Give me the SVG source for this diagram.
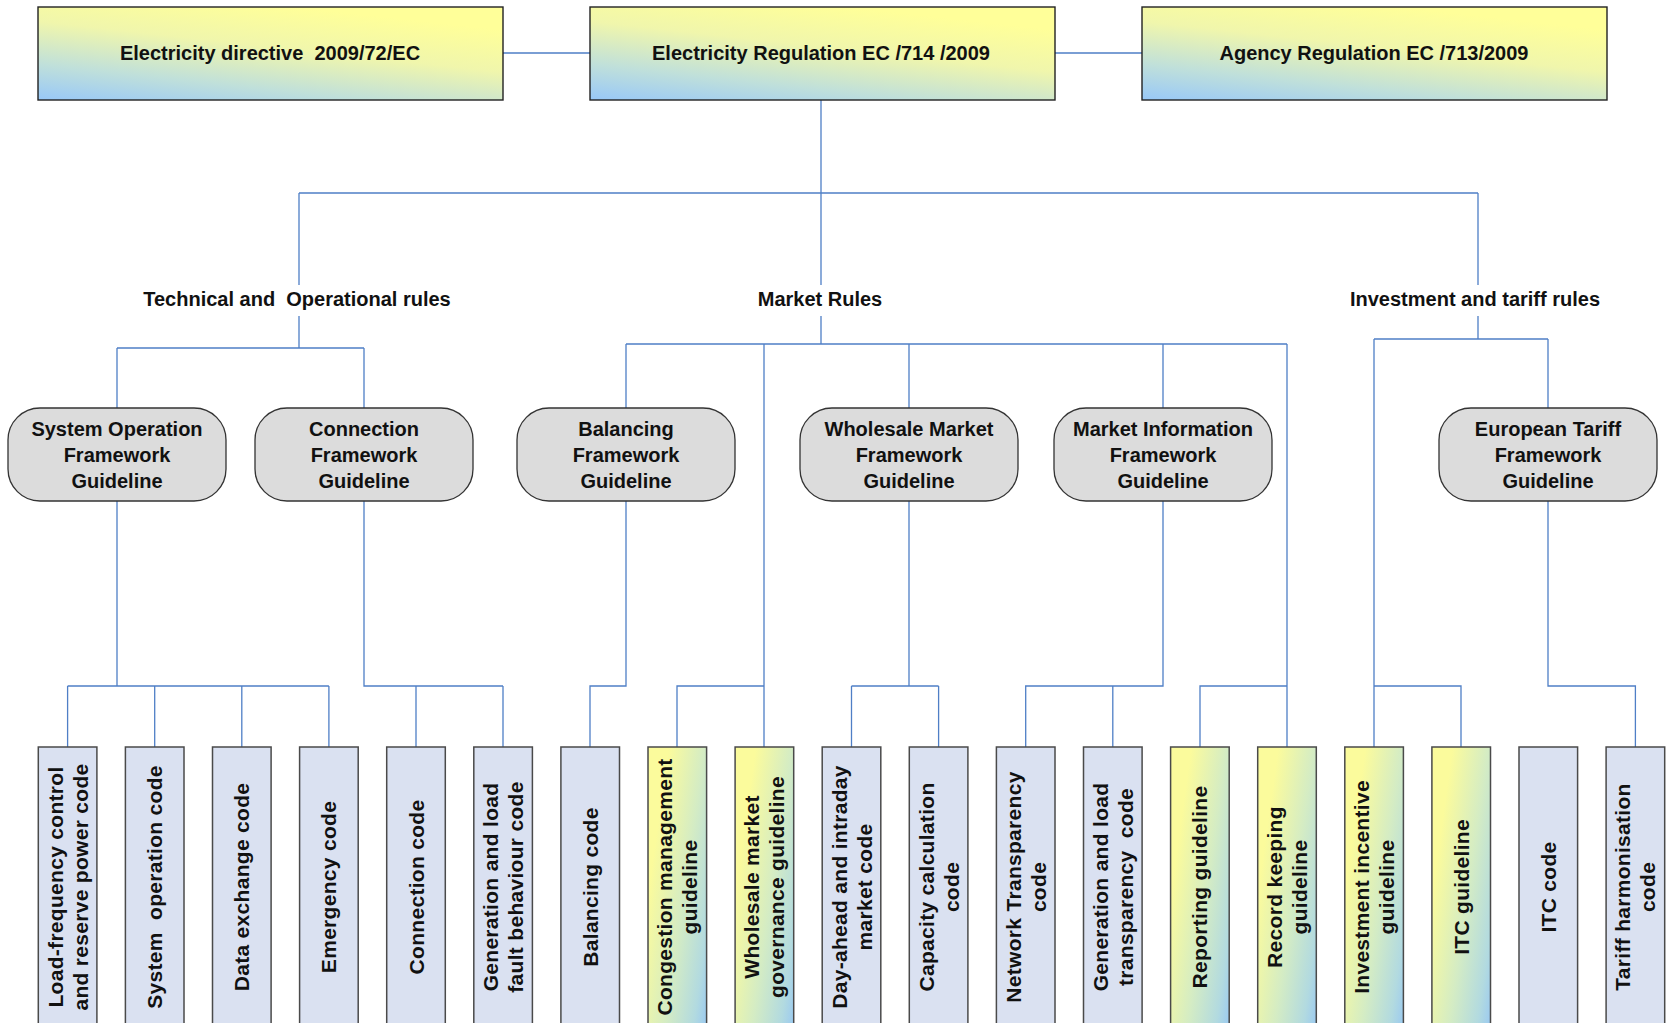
<svg xmlns="http://www.w3.org/2000/svg" width="1670" height="1023" viewBox="0 0 1670 1023">
<defs>
<linearGradient id="gTop" x1="0" y1="1" x2="0.55" y2="0">
<stop offset="0" stop-color="#98C8F8"/>
<stop offset="0.3" stop-color="#C0E0DA"/>
<stop offset="0.65" stop-color="#F0F6AC"/>
<stop offset="1" stop-color="#FFFF99"/>
</linearGradient>
<linearGradient id="gLeaf" x1="0.1" y1="0.35" x2="1" y2="1">
<stop offset="0" stop-color="#FBFB9C"/>
<stop offset="0.45" stop-color="#D4ECC4"/>
<stop offset="0.8" stop-color="#B2DAE0"/>
<stop offset="1" stop-color="#96C6F4"/>
</linearGradient>
<style>
.t{font-family:"Liberation Sans",Arial,sans-serif;font-weight:bold;fill:#111}
.tb{font-size:20px;text-anchor:middle}
.lf{font-size:21px;text-anchor:middle;letter-spacing:0.3px}
.top{fill:url(#gTop);stroke:#222;stroke-width:1.4}
.fw{fill:#DCDCDC;stroke:#333;stroke-width:1.3}
.leaf{fill:#DAE1F1;stroke:#4a4a4a;stroke-width:1.5}
.leafg{fill:url(#gLeaf);stroke:#4a4a4a;stroke-width:1.5}
.c{fill:none;stroke:#4F7FC6;stroke-width:1.3}
</style>
</defs>
<rect width="1670" height="1023" fill="#fff"/>

<g id="connectors">
<path class="c" d="M503 53H590M1055 53H1142"/>
<path class="c" d="M821 100V285M821 316V344M299 193H1478M299 193V285M299 316V348M1478 193V285M1478 316V339"/>
<path class="c" d="M117 348H364M117 348V408M364 348V408"/>
<path class="c" d="M626 344H1287M626 344V408M764 344V747M909 344V408M1163 344V408M1287 344V747"/>
<path class="c" d="M1374 339H1548M1374 339V747M1548 339V408"/>
<path class="c" d="M117 501V686M67.6 686H328.9M67.6 686V747M154.7 686V747M241.8 686V747M328.9 686V747"/>
<path class="c" d="M364 501V686H503M416 686V747M503 686V747"/>
<path class="c" d="M626 501V686H590V747"/>
<path class="c" d="M764 686H677V747"/>
<path class="c" d="M909 501V686M851.5 686H938.6M851.5 686V747M938.6 686V747"/>
<path class="c" d="M1163 501V686H1025.7V747M1112.8 686V747"/>
<path class="c" d="M1287 686H1200V747"/>
<path class="c" d="M1374 686H1461V747"/>
<path class="c" d="M1548 501V686H1635.4V747"/>
</g>

<g id="n-directive"><rect class="top" x="38" y="7" width="465" height="93"/><text class="t tb" x="270" y="60" xml:space="preserve">Electricity directive  2009/72/EC</text></g>
<g id="n-regulation"><rect class="top" x="590" y="7" width="465" height="93"/><text class="t tb" x="821" y="60">Electricity Regulation EC /714 /2009</text></g>
<g id="n-agency"><rect class="top" x="1142" y="7" width="465" height="93"/><text class="t tb" x="1374" y="60">Agency Regulation EC /713/2009</text></g>

<g id="lbl-technical"><text class="t tb" x="297" y="306" xml:space="preserve">Technical and  Operational rules</text></g>
<g id="lbl-market"><text class="t tb" x="820" y="306">Market Rules</text></g>
<g id="lbl-investment"><text class="t tb" x="1475" y="306">Investment and tariff rules</text></g>

<g id="fw-so"><rect class="fw" x="8" y="408" width="218" height="93" rx="32"/><text class="t tb" x="117"><tspan x="117" y="436">System Operation</tspan><tspan x="117" y="462">Framework</tspan><tspan x="117" y="488">Guideline</tspan></text></g>
<g id="fw-conn"><rect class="fw" x="255" y="408" width="218" height="93" rx="32"/><text class="t tb" x="364"><tspan x="364" y="436">Connection</tspan><tspan x="364" y="462">Framework</tspan><tspan x="364" y="488">Guideline</tspan></text></g>
<g id="fw-bal"><rect class="fw" x="517" y="408" width="218" height="93" rx="32"/><text class="t tb"><tspan x="626" y="436">Balancing</tspan><tspan x="626" y="462">Framework</tspan><tspan x="626" y="488">Guideline</tspan></text></g>
<g id="fw-wm"><rect class="fw" x="800" y="408" width="218" height="93" rx="32"/><text class="t tb"><tspan x="909" y="436">Wholesale Market</tspan><tspan x="909" y="462">Framework</tspan><tspan x="909" y="488">Guideline</tspan></text></g>
<g id="fw-mi"><rect class="fw" x="1054" y="408" width="218" height="93" rx="32"/><text class="t tb"><tspan x="1163" y="436">Market Information</tspan><tspan x="1163" y="462">Framework</tspan><tspan x="1163" y="488">Guideline</tspan></text></g>
<g id="fw-et"><rect class="fw" x="1439" y="408" width="218" height="93" rx="32"/><text class="t tb"><tspan x="1548" y="436">European Tariff</tspan><tspan x="1548" y="462">Framework</tspan><tspan x="1548" y="488">Guideline</tspan></text></g>

<g id="leaf-0"><rect class="leaf" x="38.3" y="747" width="58.6" height="300"/><text class="t lf" transform="translate(67.6 887) rotate(-90)"><tspan x="0" y="-5">Load-frequency control</tspan><tspan x="0" y="20">and reserve power code</tspan></text></g>
<g id="leaf-1"><rect class="leaf" x="125.4" y="747" width="58.6" height="300"/><text class="t lf" transform="translate(154.7 887) rotate(-90)" y="7.5" xml:space="preserve">System  operation code</text></g>
<g id="leaf-2"><rect class="leaf" x="212.5" y="747" width="58.6" height="300"/><text class="t lf" transform="translate(241.8 887) rotate(-90)" y="7.5">Data exchange code</text></g>
<g id="leaf-3"><rect class="leaf" x="299.6" y="747" width="58.6" height="300"/><text class="t lf" transform="translate(328.9 887) rotate(-90)" y="7.5">Emergency code</text></g>
<g id="leaf-4"><rect class="leaf" x="386.7" y="747" width="58.6" height="300"/><text class="t lf" transform="translate(416 887) rotate(-90)" y="7.5">Connection code</text></g>
<g id="leaf-5"><rect class="leaf" x="473.8" y="747" width="58.6" height="300"/><text class="t lf" transform="translate(503.1 887) rotate(-90)"><tspan x="0" y="-5">Generation and load</tspan><tspan x="0" y="20">fault behaviour code</tspan></text></g>
<g id="leaf-6"><rect class="leaf" x="560.9" y="747" width="58.6" height="300"/><text class="t lf" transform="translate(590.2 887) rotate(-90)" y="7.5">Balancing code</text></g>
<g id="leaf-7"><rect class="leafg" x="648" y="747" width="58.6" height="300"/><text class="t lf" transform="translate(677.3 887) rotate(-90)"><tspan x="0" y="-5">Congestion management</tspan><tspan x="0" y="20">guideline</tspan></text></g>
<g id="leaf-8"><rect class="leafg" x="735.1" y="747" width="58.6" height="300"/><text class="t lf" transform="translate(764.4 887) rotate(-90)"><tspan x="0" y="-5">Wholesale market</tspan><tspan x="0" y="20">governance guideline</tspan></text></g>
<g id="leaf-9"><rect class="leaf" x="822.2" y="747" width="58.6" height="300"/><text class="t lf" transform="translate(851.5 887) rotate(-90)"><tspan x="0" y="-5">Day-ahead and intraday</tspan><tspan x="0" y="20">market code</tspan></text></g>
<g id="leaf-10"><rect class="leaf" x="909.3" y="747" width="58.6" height="300"/><text class="t lf" transform="translate(938.6 887) rotate(-90)"><tspan x="0" y="-5">Capacity calculation</tspan><tspan x="0" y="20">code</tspan></text></g>
<g id="leaf-11"><rect class="leaf" x="996.4" y="747" width="58.6" height="300"/><text class="t lf" transform="translate(1025.7 887) rotate(-90)"><tspan x="0" y="-5">Network Transparency</tspan><tspan x="0" y="20">code</tspan></text></g>
<g id="leaf-12"><rect class="leaf" x="1083.5" y="747" width="58.6" height="300"/><text class="t lf" transform="translate(1112.8 887) rotate(-90)" xml:space="preserve"><tspan x="0" y="-5">Generation and load</tspan><tspan x="0" y="20">transparency  code</tspan></text></g>
<g id="leaf-13"><rect class="leafg" x="1170.6" y="747" width="58.6" height="300"/><text class="t lf" transform="translate(1199.9 887) rotate(-90)" y="7.5">Reporting guideline</text></g>
<g id="leaf-14"><rect class="leafg" x="1257.7" y="747" width="58.6" height="300"/><text class="t lf" transform="translate(1287 887) rotate(-90)"><tspan x="0" y="-5">Record keeping</tspan><tspan x="0" y="20">guideline</tspan></text></g>
<g id="leaf-15"><rect class="leafg" x="1344.8" y="747" width="58.6" height="300"/><text class="t lf" transform="translate(1374.1 887) rotate(-90)"><tspan x="0" y="-5">Investment incentive</tspan><tspan x="0" y="20">guideline</tspan></text></g>
<g id="leaf-16"><rect class="leafg" x="1431.9" y="747" width="58.6" height="300"/><text class="t lf" transform="translate(1461.2 887) rotate(-90)" y="7.5">ITC guideline</text></g>
<g id="leaf-17"><rect class="leaf" x="1519" y="747" width="58.6" height="300"/><text class="t lf" transform="translate(1548.3 887) rotate(-90)" y="7.5">ITC code</text></g>
<g id="leaf-18"><rect class="leaf" x="1606.1" y="747" width="58.6" height="300"/><text class="t lf" transform="translate(1635.4 887) rotate(-90)"><tspan x="0" y="-5">Tariff harmonisation</tspan><tspan x="0" y="20">code</tspan></text></g>
</svg>
